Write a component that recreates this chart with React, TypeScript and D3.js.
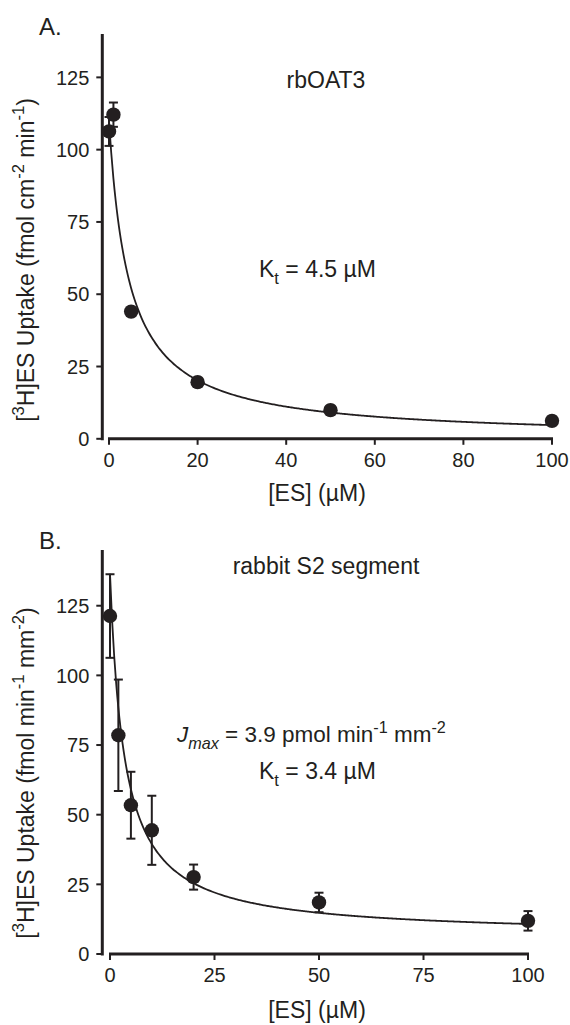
import * as d3 from "d3";

const FONT = "'Liberation Sans', Arial, Helvetica, sans-serif";
const INK = "#231f20";

// panel A: rbOAT3
const concA = [0, 1, 5, 20, 50, 100];
const uptakeA = [106.3, 112.1, 44, 19.6, 9.9, 6.2];
const semA = [5, 4.2, 1, 1.5, 1.5, 1.5];
const xTicksA = [0, 20, 40, 60, 80, 100];
const yTicksA = [0, 25, 50, 75, 100, 125];
const fitA = { jmax: 110, kt: 4.5, c: 0 };

// panel B: rabbit S2 segment
const concB = [0, 2, 5, 10, 20, 50, 100];
const uptakeB = [121.3, 78.5, 53.4, 44.4, 27.6, 18.5, 11.9];
const semB = [15, 20, 12, 12.4, 4.5, 3.5, 3.5];
const xTicksB = [0, 25, 50, 75, 100];
const yTicksB = [0, 25, 50, 75, 100, 125];
const fitB = { jmax: 130, kt: 3.4, c: 6.5 };

type Seg = { t: string; sup?: boolean; sub?: boolean; it?: boolean };

const RichText = ({ segs, size, ...rest }: any) => {
  let shift = 0;
  return (
    <text fontFamily={FONT} fontSize={size} fill={INK} {...rest}>
      {segs.map((s: Seg, i: number) => {
        const target = s.sup ? -0.42 * size : s.sub ? 0.32 * size : 0;
        const dy = target - shift;
        shift = target;
        return (
          <tspan
            key={i}
            dy={dy}
            fontSize={s.sup || s.sub ? size * 0.72 : size}
            fontStyle={s.it ? "italic" : "normal"}
          >
            {s.t}
          </tspan>
        );
      })}
    </text>
  );
};

const Panel = ({ conc, uptake, sem, xTicks, yTicks, fit, xRange, yRange, yMax, axisX, letter, letterY, yTitle, yTitleY, xTitleY, children }: any) => {
  const x = d3.scaleLinear().domain([0, 100]).range(xRange);
  const y = d3.scaleLinear().domain([0, yMax]).range(yRange);
  const y0 = y(0);
  const curve = d3
    .line<number>()
    .x((d) => x(d))
    .y((d) => y((fit.jmax * fit.kt) / (fit.kt + d) + fit.c))
    .curve(d3.curveMonotoneX);
  const samples = d3.range(0, 100.001, 0.5);

  return (
    <g>
      <text x={39} y={letterY} fontFamily={FONT} fontSize={24} fill={INK}>{letter}</text>
      {/* axes */}
      <line x1={axisX} x2={axisX} y1={y(yMax)} y2={y0 + 1.5} stroke={INK} strokeWidth={3} />
      <line x1={x(0) - 1} x2={x(100) + 1} y1={y0} y2={y0} stroke={INK} strokeWidth={3} />
      {yTicks.map((t: number) => (
        <g key={"y" + t}>
          <line x1={axisX - 6} x2={axisX} y1={y(t)} y2={y(t)} stroke={INK} strokeWidth={2} />
          <text x={axisX - 13} y={y(t)} dy="0.36em" textAnchor="end" fontFamily={FONT} fontSize={20} fill={INK}>{t}</text>
        </g>
      ))}
      {xTicks.map((t: number) => (
        <g key={"x" + t}>
          <line x1={x(t)} x2={x(t)} y1={y0} y2={y0 + 6} stroke={INK} strokeWidth={2} />
          <text x={x(t)} y={y0 + 28} textAnchor="middle" fontFamily={FONT} fontSize={20} fill={INK}>{t}</text>
        </g>
      ))}
      <RichText
        segs={[{ t: "[ES] (\u00b5M)" }]}
        size={23}
        x={317}
        y={xTitleY}
        textAnchor="middle"
      />
      <RichText
        segs={yTitle}
        size={23}
        textAnchor="middle"
        transform={`translate(34,${yTitleY}) rotate(-90)`}
      />
      {/* fit */}
      <path d={curve(samples) || ""} fill="none" stroke={INK} strokeWidth={1.8} />
      {/* error bars */}
      {conc.map((c: number, i: number) => {
        const cx = x(c);
        const top = y(uptake[i] + sem[i]);
        const bot = y(uptake[i] - sem[i]);
        return (
          <g key={"e" + i} stroke={INK} strokeWidth={2}>
            <line x1={cx} x2={cx} y1={top} y2={bot} />
            <line x1={cx - 4.5} x2={cx + 4.5} y1={top} y2={top} />
            <line x1={cx - 4.5} x2={cx + 4.5} y1={bot} y2={bot} />
          </g>
        );
      })}
      {conc.map((c: number, i: number) => (
        <circle key={"p" + i} cx={x(c)} cy={y(uptake[i])} r={7.2} fill={INK} />
      ))}
      {children}
    </g>
  );
};

export default function App() {
  return (
    <svg width={570} height={1025} style={{ position: "absolute", left: 0, top: 0, background: "#fff" }}>
      <Panel
        conc={concA}
        uptake={uptakeA}
        sem={semA}
        xTicks={xTicksA}
        yTicks={yTicksA}
        fit={fitA}
        xRange={[109, 552]}
        yRange={[438.8, 34]}
        yMax={140}
        axisX={102.3}
        letter="A."
        letterY={35}
        yTitleY={260}
        xTitleY={501}
        yTitle={[
          { t: "[" },
          { t: "3", sup: true },
          { t: "H]ES Uptake (fmol cm" },
          { t: "-2", sup: true },
          { t: " min" },
          { t: "-1", sup: true },
          { t: ")" },
        ]}
      >
        <RichText segs={[{ t: "rbOAT3" }]} size={23} x={326} y={88} textAnchor="middle" />
        <RichText segs={[{ t: "K" }, { t: "t", sub: true }, { t: " = 4.5 \u00b5M" }]} size={23} x={259} y={277} />
      </Panel>
      <Panel
        conc={concB}
        uptake={uptakeB}
        sem={semB}
        xTicks={xTicksB}
        yTicks={yTicksB}
        fit={fitB}
        xRange={[110, 528]}
        yRange={[954, 550]}
        yMax={145}
        axisX={102.3}
        letter="B."
        letterY={549}
        yTitleY={773}
        xTitleY={1018}
        yTitle={[
          { t: "[" },
          { t: "3", sup: true },
          { t: "H]ES Uptake (fmol min" },
          { t: "-1", sup: true },
          { t: " mm" },
          { t: "-2", sup: true },
          { t: ")" },
        ]}
      >
        <RichText segs={[{ t: "rabbit S2 segment" }]} size={23} x={326} y={574} textAnchor="middle" />
        <RichText
          segs={[
            { t: "J", it: true },
            { t: "max", sub: true, it: true },
            { t: " = 3.9 pmol min" },
            { t: "-1", sup: true },
            { t: " mm" },
            { t: "-2", sup: true },
          ]}
          size={22.5}
          x={177}
          y={742}
        />
        <RichText segs={[{ t: "K" }, { t: "t", sub: true }, { t: " = 3.4 \u00b5M" }]} size={23} x={259} y={779} />
      </Panel>
    </svg>
  );
}
